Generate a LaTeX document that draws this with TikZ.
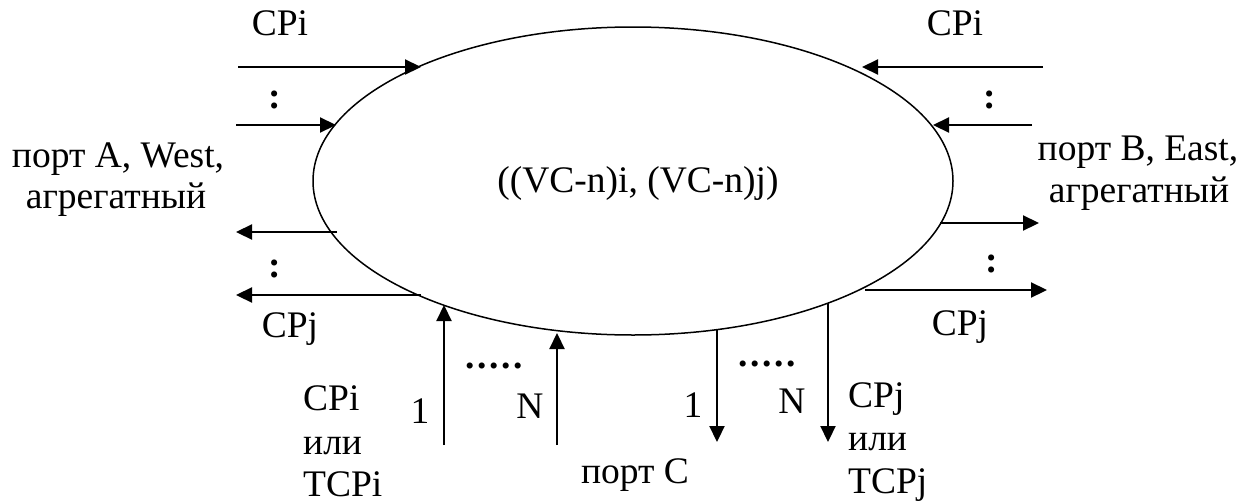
\documentclass[tikz,border=0pt]{standalone}
\usepackage{fontspec}
\setmainfont{Liberation Serif}
\usetikzlibrary{shapes.geometric,arrows.meta}
\begin{document}
\begin{tikzpicture}[x=1pt,y=-1pt,
  lbl/.style={font=\fontsize{37.5}{45}\selectfont, inner sep=0pt, anchor=base},
  lblw/.style={lbl, anchor=base west},
  dotsym/.style={font=\fontsize{37.5}{45}\selectfont\bfseries, inner sep=0pt, anchor=base},
  conn/.style={line width=2.2pt, -{Triangle[length=16pt,width=15pt]}},
  core/.style={ellipse, draw, line width=1.5pt, minimum width=640pt, minimum height=308pt, inner sep=0pt}]
\useasboundingbox (0,0) rectangle (1251,501);
\node[core] (E) at (633,181) {};
\node[lbl] (ctext) at (638,192) {((VC-n)i, (VC-n)j)};
% left side
\coordinate (la1) at (238,67);  \coordinate (lb1) at (421,67);
\coordinate (la2) at (236,125); \coordinate (lb2) at (336,125);
\coordinate (lc1) at (337,232); \coordinate (ld1) at (236,232);
\coordinate (lc2) at (421,295); \coordinate (ld2) at (236,295);
\draw[conn] (la1) -- (lb1);
\draw[conn] (la2) -- (lb2);
\draw[conn] (lc1) -- (ld1);
\draw[conn] (lc2) -- (ld2);
\node[dotsym] (ldots1) at (275,108) {:};
\node[dotsym] (ldots2) at (275,277) {:};
\node[lbl] (lcpi) at (280,35) {CPi};
\node[lbl] (lcpj) at (290,337) {CPj};
\node[lbl] (portA1) at (118,167) {порт A, West,};
\node[lbl] (portA2) at (116,208) {агрегатный};
% right side
\coordinate (ra1) at (1043,67);  \coordinate (rb1) at (862,67);
\coordinate (ra2) at (1032,125); \coordinate (rb2) at (933,125);
\coordinate (rc1) at (940,223);  \coordinate (rd1) at (1039,223);
\coordinate (rc2) at (865,290);  \coordinate (rd2) at (1047,290);
\draw[conn] (ra1) -- (rb1);
\draw[conn] (ra2) -- (rb2);
\draw[conn] (rc1) -- (rd1);
\draw[conn] (rc2) -- (rd2);
\node[dotsym] (rdots1) at (990,108) {:};
\node[dotsym] (rdots2) at (992,272) {:};
\node[lbl] (rcpi) at (955,35) {CPi};
\node[lbl] (rcpj) at (960,335) {CPj};
\node[lbl] (portB1) at (1138,160) {порт B, East,};
\node[lbl] (portB2) at (1139,202) {агрегатный};
% bottom
\coordinate (ua1) at (444,445); \coordinate (ub1) at (444,305);
\coordinate (ua2) at (557,445); \coordinate (ub2) at (557,333);
\coordinate (da1) at (717,330); \coordinate (db1) at (717,442);
\coordinate (da2) at (828,303); \coordinate (db2) at (828,442);
\draw[conn] (ua1) -- (ub1);
\draw[conn] (ua2) -- (ub2);
\draw[conn] (da1) -- (db1);
\draw[conn] (da2) -- (db2);
\node[dotsym] (bdots1) at (494,368) {.\kern2.5pt.\kern2.5pt.\kern2.5pt.\kern2.5pt.};
\node[dotsym] (bdots2) at (767,366) {.\kern2.5pt.\kern2.5pt.\kern2.5pt.\kern2.5pt.};
\node[lbl] (one1) at (420,423) {1};
\node[lbl] (nn1) at (530,418) {N};
\node[lbl] (one2) at (693,417) {1};
\node[lbl] (nn2) at (792,413) {N};
\node[lbl] (portC) at (635,483) {порт C};
\node[lblw] (bl1) at (303,410) {CPi};
\node[lblw] (bl2) at (303,454) {или};
\node[lblw] (bl3) at (303,496) {TCPi};
\node[lblw] (br1) at (848,407) {CPj};
\node[lblw] (br2) at (848,450) {или};
\node[lblw] (br3) at (848,493) {TCPj};
\end{tikzpicture}
\end{document}
